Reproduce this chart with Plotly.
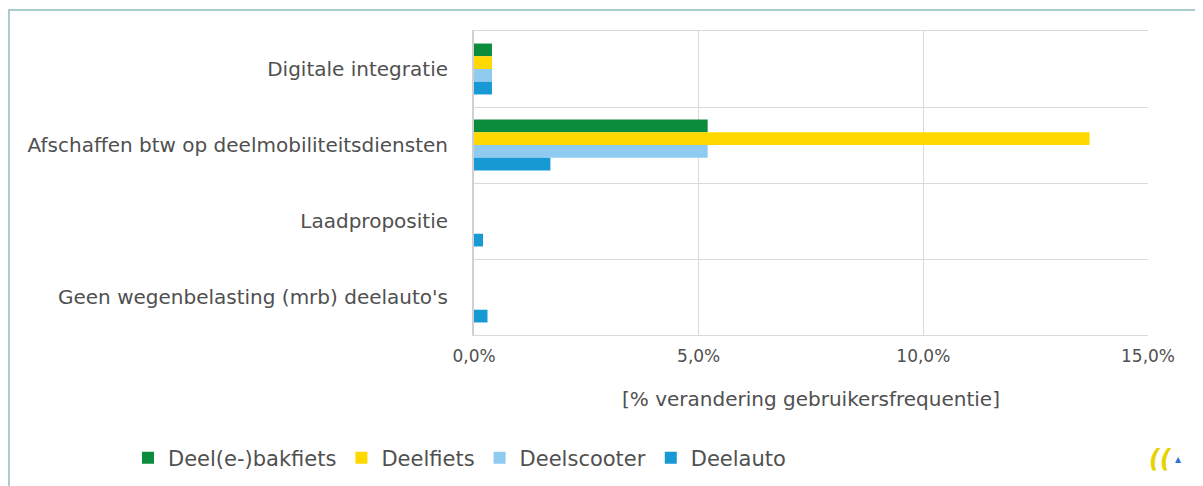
import plotly.graph_objects as go

categories = [
    "Digitale integratie",
    "Afschaffen btw op deelmobiliteitsdiensten",
    "Laadpropositie",
    "Geen wegenbelasting (mrb) deelauto's",
]
series_names = ["Deel(e-)bakfiets", "Deelfiets", "Deelscooter", "Deelauto"]
bakfiets = [0.4, 5.2, 0.0, 0.0]
deelfiets = [0.4, 13.7, 0.0, 0.0]
deelscooter = [0.4, 5.2, 0.0, 0.0]
deelauto = [0.4, 1.7, 0.2, 0.3]
colors = ["#0a8c3c", "#ffd800", "#8fcaf0", "#1799d3"]
x_ticks = [0, 5, 10, 15]
x_tick_labels = ["0,0%", "5,0%", "10,0%", "15,0%"]

font_family = "DejaVu Sans"
text_color = "#505050"

fig = go.Figure()
for name, vals, col in zip(series_names, [bakfiets, deelfiets, deelscooter, deelauto], colors):
    fig.add_trace(go.Bar(
        y=categories, x=vals, name=name, orientation="h",
        marker=dict(color=col, line=dict(width=0)),
        hoverinfo="x+name",
    ))

# page body has an 8px margin: figure coordinates = screenshot coordinates - 8
OFF = 8
W, H = 1203 - OFF, 486 - OFF
L, R, T, B = 474 - OFF, 1148 - OFF, 31 - OFF, 335 - OFF
pw, ph = R - L, B - T


def px_x(p):
    return (p - OFF - L) / pw


def px_y(p):
    return (B - (p - OFF)) / ph


border = "#a9cdcd"
shapes = [
    dict(type="line", xref="paper", yref="paper", x0=px_x(OFF), x1=px_x(1210), y0=px_y(10), y1=px_y(10),
         line=dict(color=border, width=2)),
    dict(type="line", xref="paper", yref="paper", x0=px_x(OFF + 1), x1=px_x(OFF + 1), y0=px_y(10), y1=px_y(490),
         line=dict(color=border, width=2)),
]

fig.update_layout(
    width=W, height=H,
    margin=dict(l=L, r=W - R, t=T, b=H - B, pad=0),
    paper_bgcolor="white", plot_bgcolor="white",
    barmode="group", bargap=0.33, bargroupgap=0,
    separators=",.",
    font=dict(family=font_family, size=20, color=text_color),
    showlegend=True,
    legend=dict(
        orientation="h", xref="container", yref="container",
        x=(128 - OFF) / W, y=1 - (458 - OFF) / H, xanchor="left", yanchor="middle",
        font=dict(size=21, color=text_color), itemwidth=30,
        tracegroupgap=0, itemclick=False,
    ),
    xaxis=dict(
        range=[0, 15], tickvals=x_ticks, ticktext=x_tick_labels,
        showgrid=True, gridcolor="#d9d9d9", gridwidth=1,
        showline=True, linecolor="#d9d9d9", linewidth=1, mirror=True,
        zeroline=False, ticks="", ticklabelstandoff=6,
        tickfont=dict(size=17, color=text_color),
        title=dict(text="[% verandering gebruikersfrequentie]", standoff=26,
                   font=dict(size=20, color=text_color)),
        fixedrange=True,
    ),
    yaxis=dict(
        type="category", autorange="reversed", tickson="boundaries",
        showgrid=True, gridcolor="#d9d9d9", gridwidth=1,
        showline=True, linecolor="#d0d0d0", linewidth=2,
        ticks="", ticklabelstandoff=20, tickfont=dict(size=20, color=text_color),
        fixedrange=True,
    ),
    shapes=shapes,
    annotations=[
        dict(xref="paper", yref="paper", x=px_x(1174), y=px_y(475), text="<b><i>((</i></b>",
             showarrow=False, font=dict(size=24, color="#e8d200", family=font_family)),
        dict(xref="paper", yref="paper", x=px_x(1183), y=px_y(468), text="\u25b4",
             showarrow=False, font=dict(size=12, color="#2a6fd6", family=font_family)),
    ],
)

fig.write_html("out.html")
